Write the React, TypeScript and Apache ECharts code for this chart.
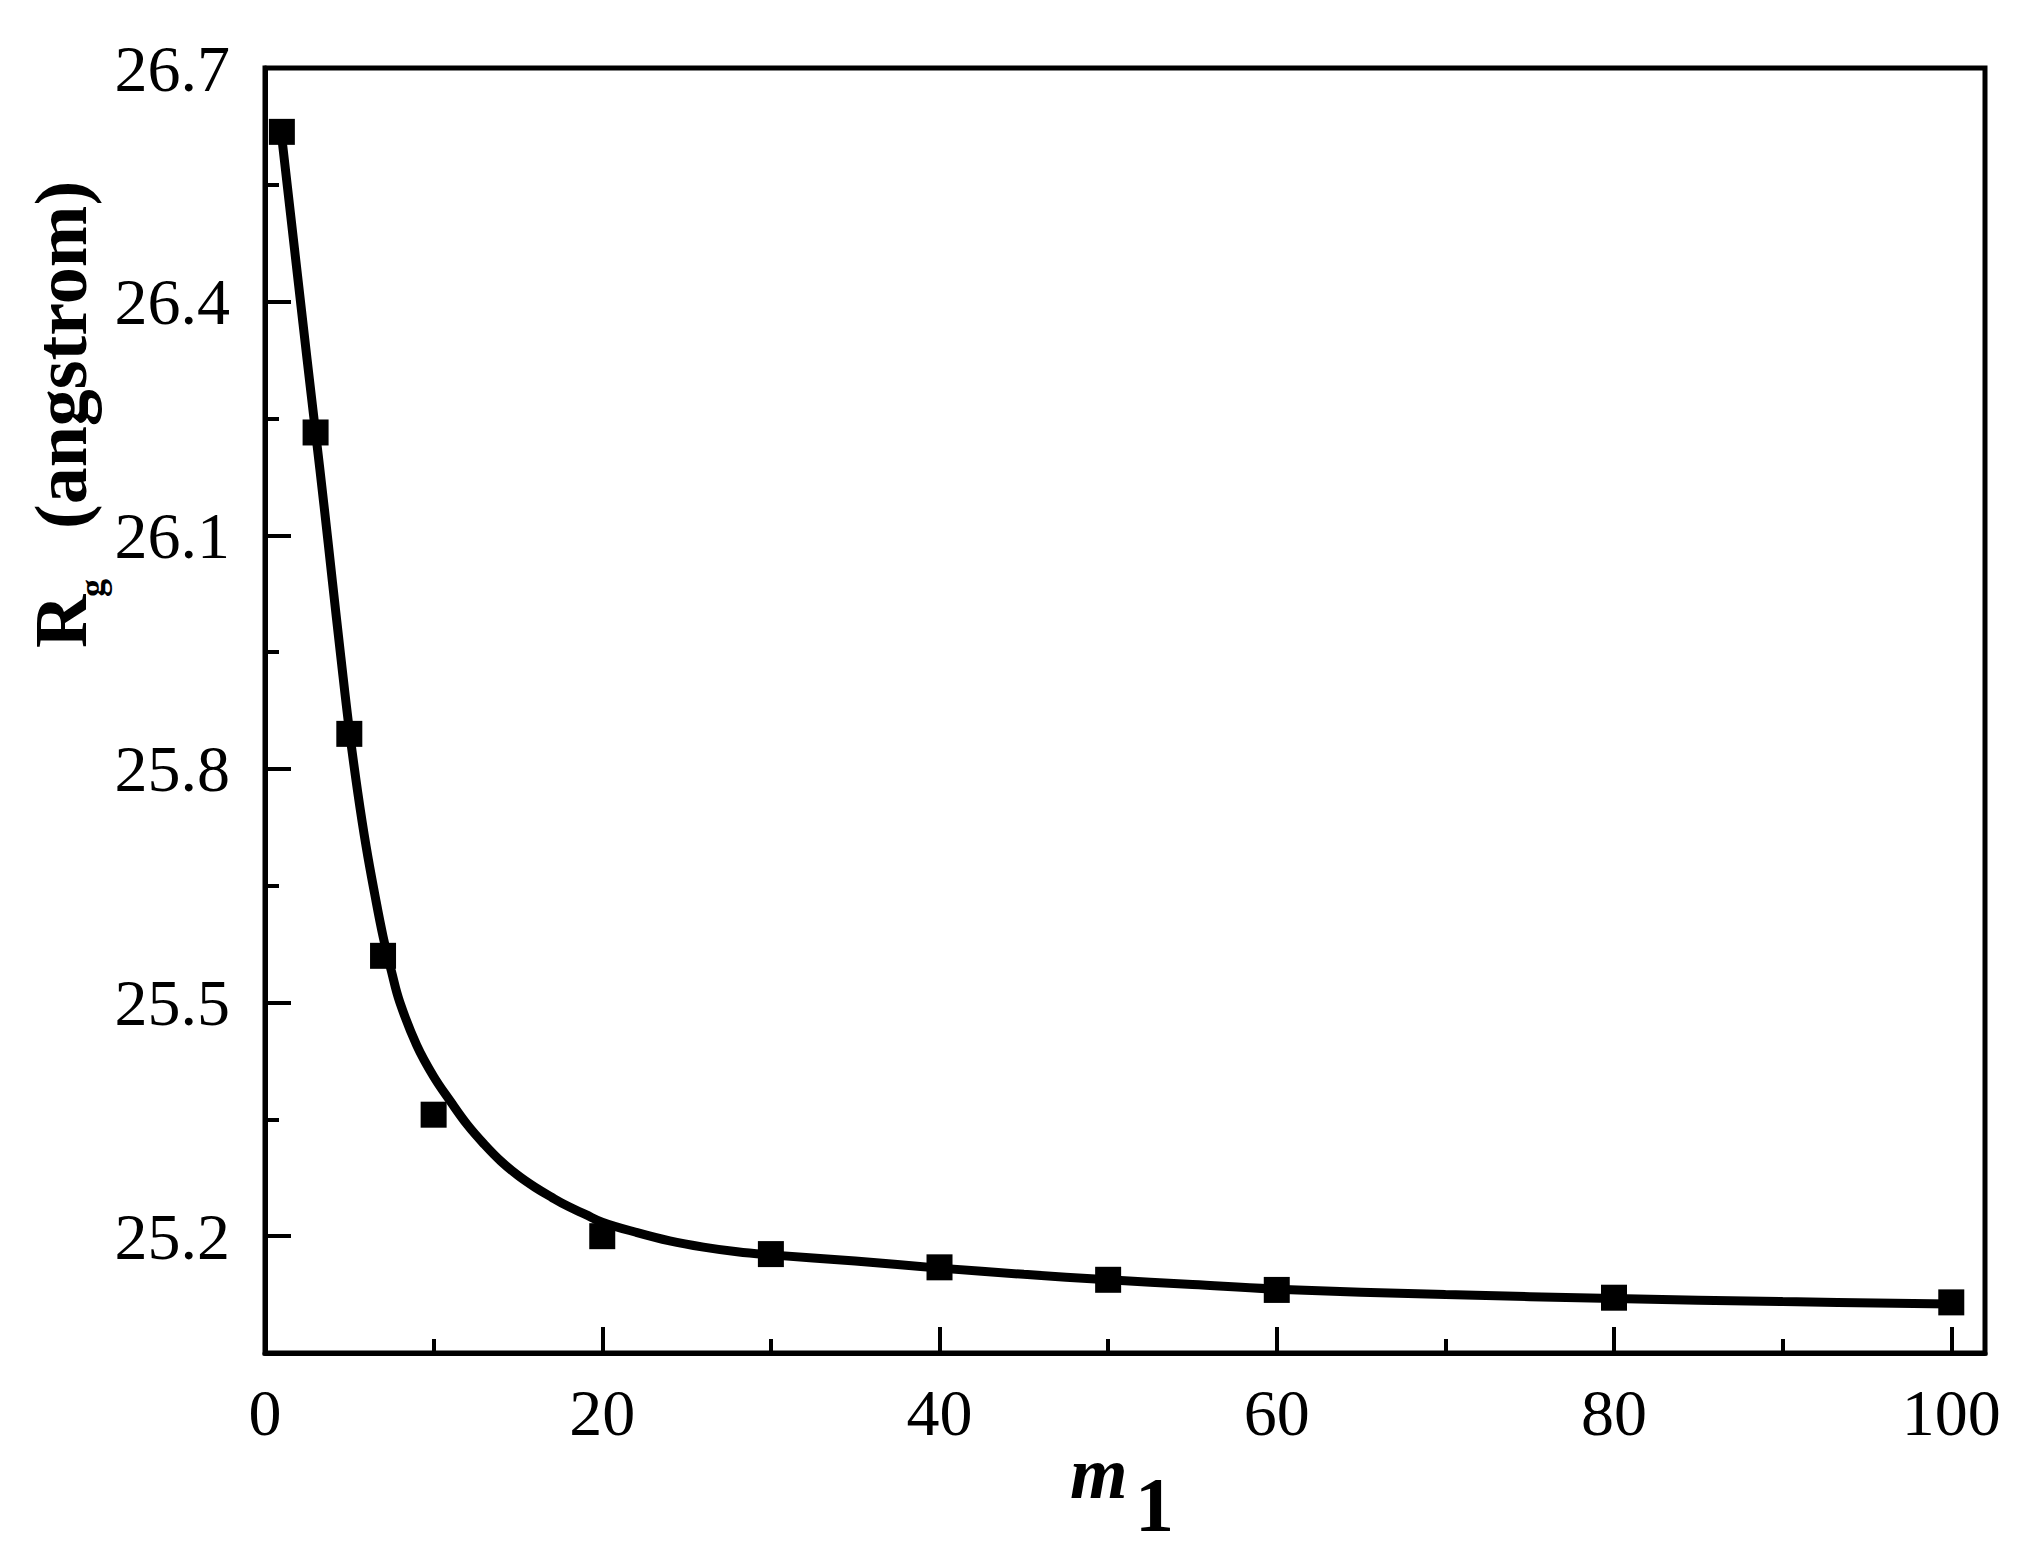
import React, { useEffect, useRef } from "react";
import * as echarts from "echarts";

// ---- data ----
const m1Values = [1, 3, 5, 7, 10, 20, 30, 40, 50, 60, 80, 100];
const rgValues = [26.618, 26.232, 25.845, 25.56, 25.356, 25.2, 25.177, 25.16, 25.144, 25.131, 25.121, 25.115];

// fitted curve
const fitX = [1, 1.5, 2, 2.5, 3, 3.5, 4, 4.5, 5, 5.5, 6, 6.5, 7, 7.5, 8, 9, 10, 11, 12, 13, 14, 15, 16, 17, 18, 19, 20, 22, 24, 26, 28, 30, 35, 40, 45, 50, 55, 60, 70, 80, 90, 100];
const fitY = [26.61, 26.515, 26.42, 26.325, 26.232, 26.138, 26.04, 25.943, 25.85, 25.77, 25.7, 25.64, 25.585, 25.54, 25.5, 25.445, 25.405, 25.373, 25.343, 25.318, 25.296, 25.278, 25.263, 25.25, 25.238, 25.228, 25.218, 25.205, 25.194, 25.186, 25.18, 25.176, 25.168, 25.159, 25.151, 25.144, 25.138, 25.132, 25.125, 25.12, 25.116, 25.113];

// axis ticks
const xMajorTicks = [0, 20, 40, 60, 80, 100];
const xMinorTicks = [10, 30, 50, 70, 90];
const yMajorTicks = [25.2, 25.5, 25.8, 26.1, 26.4, 26.7];
const yMinorTicks = [25.35, 25.65, 25.95, 26.25, 26.55];
const xRange = [0, 102];
const yRange = [25.05, 26.7];

const FONT = '"Liberation Serif", "Times New Roman", serif';

export default function App() {
  const ref = useRef<HTMLDivElement>(null);

  useEffect(() => {
    if (!ref.current) return;
    const chart = echarts.init(ref.current, null, { renderer: "svg" });
    const black = "#000";
    const tickStyle = { color: black, width: 4 };

    const option: any = {
      animation: false,
      backgroundColor: "#fff",
      grid: {
        left: 265,
        top: 68,
        right: 37,
        bottom: 201,
        show: true,
        borderColor: black,
        borderWidth: 5,
        backgroundColor: "transparent",
      },
      xAxis: [
        {
          type: "value",
          min: xRange[0],
          max: xRange[1],
          position: "bottom",
          axisLine: { show: true, onZero: false, lineStyle: { color: black, width: 5 } },
          axisTick: { show: true, inside: true, length: 26, lineStyle: tickStyle, customValues: xMajorTicks },
          axisLabel: { customValues: xMajorTicks, margin: 26, fontSize: 66, fontFamily: FONT, color: black },
          splitLine: { show: false },
        },
        {
          type: "value",
          min: xRange[0],
          max: xRange[1],
          position: "bottom",
          axisLine: { show: false },
          axisTick: { show: true, inside: true, length: 14, lineStyle: tickStyle, customValues: xMinorTicks },
          axisLabel: { show: false },
          splitLine: { show: false },
        },
      ],
      yAxis: [
        {
          type: "value",
          min: yRange[0],
          max: yRange[1],
          position: "left",
          axisLine: { show: true, onZero: false, lineStyle: { color: black, width: 5 } },
          axisTick: { show: true, inside: true, length: 26, lineStyle: tickStyle, customValues: yMajorTicks },
          axisLabel: {
            customValues: yMajorTicks,
            margin: 35,
            fontSize: 66,
            fontFamily: FONT,
            color: black,
            padding: [0, 0, 12, 0],
          },
          splitLine: { show: false },
        },
        {
          type: "value",
          min: yRange[0],
          max: yRange[1],
          position: "left",
          axisLine: { show: false },
          axisTick: { show: true, inside: true, length: 14, lineStyle: tickStyle, customValues: yMinorTicks },
          axisLabel: { show: false },
          splitLine: { show: false },
        },
      ],
      series: [
        {
          type: "line",
          data: fitX.map((x, i) => [x, fitY[i]]),
          showSymbol: false,
          symbol: "none",
          smooth: 0.4,
          lineStyle: { color: black, width: 9 },
          z: 2,
        },
        {
          type: "scatter",
          data: m1Values.map((x, i) => [x, rgValues[i]]),
          symbol: "rect",
          symbolSize: 26,
          itemStyle: { color: black, opacity: 1 },
          z: 3,
        },
      ],
      graphic: [
        {
          type: "text",
          x: 61,
          y: 648,
          rotation: Math.PI / 2,
          style: { text: "R", font: `bold 74px ${FONT}`, fill: black, align: "left", verticalAlign: "middle" },
        },
        {
          type: "text",
          x: 92,
          y: 597,
          rotation: Math.PI / 2,
          style: { text: "g", font: `bold 36px ${FONT}`, fill: black, align: "left", verticalAlign: "middle" },
        },
        {
          type: "text",
          x: 61,
          y: 529,
          rotation: Math.PI / 2,
          style: { text: "(angstrom)", font: `bold 74px ${FONT}`, fill: black, align: "left", verticalAlign: "middle" },
        },
        {
          type: "text",
          x: 1070,
          y: 1473,
          style: { text: "m", font: `italic bold 74px ${FONT}`, fill: black, align: "left", verticalAlign: "middle" },
        },
        {
          type: "text",
          x: 1135,
          y: 1504,
          style: { text: "1", font: `bold 78px ${FONT}`, fill: black, align: "left", verticalAlign: "middle" },
        },
      ],
    };

    chart.setOption(option);
    return () => chart.dispose();
  }, []);

  return (
    <div
      ref={ref}
      style={{ position: "absolute", left: 0, top: 0, width: 2022, height: 1554, background: "#fff" }}
    />
  );
}
